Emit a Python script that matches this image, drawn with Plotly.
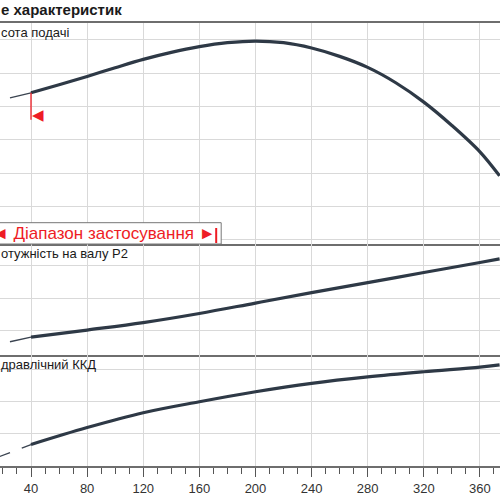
import plotly.graph_objects as go
from plotly.subplots import make_subplots

# flow Q (m3/h) and the three curves
q_head = [40, 60, 80, 100, 120, 140, 160, 180, 200, 220, 240, 260, 280, 300, 320, 340, 360, 374]
head = [8.41, 8.65, 8.90, 9.16, 9.41, 9.62, 9.79, 9.91, 9.96, 9.91, 9.75, 9.50, 9.17, 8.71, 8.13, 7.43, 6.64, 5.92]
q_head_ext = [25, 40]
head_ext = [8.26, 8.41]

q_power = [40, 80, 120, 160, 200, 240, 280, 320, 360, 374]
power = [0.80, 1.02, 1.25, 1.53, 1.85, 2.17, 2.48, 2.79, 3.10, 3.21]
q_power_ext = [25, 40]
power_ext = [0.66, 0.80]

q_eff = [40, 80, 120, 160, 200, 240, 280, 320, 360, 374]
eff = [6.65, 11.9, 16.5, 19.9, 23.0, 25.6, 27.6, 29.2, 30.6, 31.3]
q_eff_ext = [0, 40]
eff_ext = [0, 6.65]

range_start = 40
range_end = 172

title_text = 'е характеристик'
panel_labels = ['сота подачі', 'отужність на валу P2', 'дравлічний ККД']
range_text = '◄ Діапазон застосування ►'

line_col = '#2e3946'
grid_col = '#d9d9d9'
border_col = '#6e6e6e'
red = '#ee1c25'
font_fam = 'Liberation Sans, Arial, sans-serif'

fig = make_subplots(rows=3, cols=1, shared_xaxes=True, vertical_spacing=0,
                    row_heights=[221, 111, 111])

# thick curves + thin extensions
curves = [
    (q_head, head, q_head_ext, head_ext, 'solid', 1),
    (q_power, power, q_power_ext, power_ext, 'solid', 2),
    (q_eff, eff, q_eff_ext, eff_ext, '12.5px,12.6px', 3),
]
for qm, vm, qe, ve, dash, row in curves:
    fig.add_trace(go.Scatter(x=qe, y=ve, mode='lines',
                             line=dict(color='#3a4350', width=1.3, dash=dash),
                             showlegend=False, hoverinfo='skip'), row=row, col=1)
    fig.add_trace(go.Scatter(x=qm, y=vm, mode='lines',
                             line=dict(color=line_col, width=3.2, shape='spline'),
                             showlegend=False), row=row, col=1)

# axes - each panel draws its bottom border, the top panel also its top one
for row in [1, 2, 3]:
    fig.update_xaxes(range=[17.9, 374.3], dtick=40, tick0=0, showgrid=True,
                     gridcolor=grid_col, gridwidth=1.3, showline=True,
                     mirror=(row == 1), linecolor=border_col, linewidth=2,
                     zeroline=False, row=row, col=1)
fig.update_xaxes(ticks='', showticklabels=False, row=1, col=1)
fig.update_xaxes(ticks='', showticklabels=False, row=2, col=1)
fig.update_xaxes(ticks='outside', ticklen=9, tickwidth=1.3, tickcolor='#555555',
                 tickfont=dict(size=13, color='#333333', family=font_fam),
                 minor=dict(dtick=10, tick0=0, ticks='outside', ticklen=6,
                            tickwidth=1.3, tickcolor='#555555', showgrid=False),
                 row=3, col=1)

fig.update_yaxes(range=[3.88, 10.50], dtick=1, tick0=0, row=1, col=1)
fig.update_yaxes(range=[0.252, 3.668], dtick=1, tick0=0, row=2, col=1)
fig.update_yaxes(range=[0, 34.38], dtick=10, tick0=0, row=3, col=1)
fig.update_yaxes(showticklabels=False, ticks='', showgrid=True, gridcolor=grid_col,
                 gridwidth=1.3, zeroline=False, showline=False)

# working range box in the top panel
fig.add_shape(type='rect', xref='x', yref='y domain', xsizemode='pixel',
              ysizemode='pixel', xanchor=range_end, yanchor=0,
              x0=-400, x1=5, y0=0, y1=21.3,
              line=dict(color='#777777', width=1), fillcolor='white', layer='above')
fig.add_shape(type='line', xref='x', yref='y domain', ysizemode='pixel', yanchor=0,
              x0=range_end, x1=range_end, y0=1, y1=16,
              line=dict(color=red, width=2), layer='above')
fig.add_annotation(x=range_end, xref='x', y=0, yref='y domain', text=range_text,
                   showarrow=False, xanchor='right', yanchor='middle',
                   xshift=2, yshift=10.5,
                   font=dict(size=17, color=red, family=font_fam))

# start marker on the head curve
fig.add_shape(type='line', xref='x', yref='y', ysizemode='pixel', yanchor=head[0],
              x0=range_start, x1=range_start, y0=0, y1=-27,
              line=dict(color=red, width=1.3), layer='above')
fig.add_annotation(x=range_start, xref='x', y=head[0], yref='y', text='◀',
                   showarrow=False, xanchor='left', yanchor='middle',
                   xshift=-1, yshift=-22,
                   font=dict(size=15, color=red, family='DejaVu Sans'))

# panel labels and title
for i, label in enumerate(panel_labels):
    yd = 'y domain' if i == 0 else 'y%d domain' % (i + 1)
    fig.add_annotation(x=0, xref='paper', y=1, yref=yd, text=label,
                       showarrow=False, xanchor='left', yanchor='middle',
                       xshift=-1, yshift=-9,
                       font=dict(size=13, color='#1a1a1a', family=font_fam))
fig.add_annotation(x=0, xref='paper', y=1, yref='paper', text='<b>' + title_text + '</b>',
                   showarrow=False, xanchor='left', yanchor='middle',
                   xshift=-1, yshift=13.7,
                   font=dict(size=15, color='#1a1a1a', family=font_fam))

fig.update_layout(width=500, height=500,
                  margin=dict(l=0, r=0, t=23, b=34),
                  plot_bgcolor='white', paper_bgcolor='white',
                  showlegend=False)

# page body has a default 8px margin; drop it so the chart fills the window
fig.write_html("out.html", config={'displayModeBar': False},
               post_script="document.body.style.margin='0';document.body.style.overflow='hidden';")
